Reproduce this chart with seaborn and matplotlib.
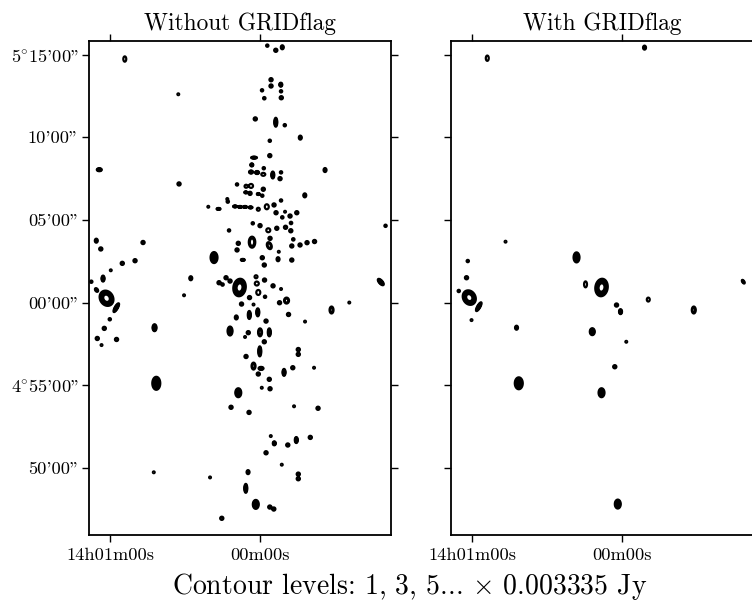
import numpy as np
import matplotlib
matplotlib.use("Agg")
import matplotlib.pyplot as plt
import seaborn as sns

# Field centre: RA 14h00m00s, Dec +05d00m00s.
# Source offsets: RA in seconds of time, Dec in arcminutes.
# Peak brightness in mJy/beam, Gaussian widths (sigma) in arcsec on the sky,
# rho = RA/Dec correlation of the elliptical profile,
# profile index 2 = Gaussian, 4 = flat-topped (resolved) source.

# ---------------- image without GRIDflag ----------------
raw_ra = [
    54.1, 32.7, 64.3, 32.4, 9.2, 13.1, -2.9, -6.3, -8.9, -4.4,
    -4.4, -8.3, -8.4, -8.5, -0.8, -1.7, 1.9, -6.3, -9.9, -16.1,
    -3.9, -3.9, 2.4, 3.3, -1.5, 3.6, 1.2, -1.3, -5.1, -8.4,
    -8.0, -26.0, 5.6, 3.6, -1.3, 5.7, 4.0, 0.7, -0.9, -17.9,
    -8.4, 10.0, 8.0, 6.0, 3.8, 0.7, -2.7, -5.6, -6.4, -10.0,
    -12.0, -14.7, 12.9, 20.7, 16.6, -8.9, -12.4, 2.9, 0.0, -3.3,
    -6.7, -10.2, -12.3, 12.4, 3.2, -3.7, -4.0, 8.7, 9.2, -13.3,
    -12.7, -16.0, -18.8, -21.8, -7.5, 6.9, -0.9, -1.7, -7.2, -12.7,
    18.4, 46.8, 65.5, 63.7, 55.1, 50.0, 59.7, 67.5, 62.8, 65.4,
    61.4, 57.5, 60.1, 62.3, 65.1, 57.4, 63.4, 27.7, 30.4, 42.2,
    16.4, 15.0, 13.6, 12.0, 8.2, 1.6, 1.3, 0.7, 4.2, -2.0,
    -1.8, -5.2, -8.4, -10.6, -7.8, 7.4, 2.6, 9.5, 4.3, 0.9,
    -2.4, -11.4, -18.0, -28.6, -35.7, -48.3, -50.2, 12.0, 4.7, 6.0,
    0.0, -3.7, -1.7, 0.1, 5.6, -15.3, -15.3, 2.6, -0.4, 0.7,
    -3.7, -9.6, -13.1, -21.6, -0.7, -4.0, 11.6, 4.4, -13.6, -23.2,
    -4.3, -5.7, -11.1, -14.5, -20.1, -2.4, -8.7, -15.3, -15.3, 4.8,
    5.7, 1.7, -3.9, -5.5, 15.3, 41.5, 8.7, 42.5, 20.0,
]
raw_dec = [
    14.73, 12.60, 8.04, 7.18, 7.15, 6.27, 15.54, 15.26, 15.44, 13.48,
    13.10, 13.18, 12.78, 12.39, 12.84, 12.36, 11.11, 10.91, 10.73, 9.98,
    9.79, 8.89, 8.77, 8.33, 8.13, 7.90, 7.87, 7.76, 7.72, 7.88,
    7.50, 8.02, 7.04, 7.06, 6.86, 6.67, 6.61, 6.57, 6.47, 6.49,
    6.18, 5.82, 5.79, 5.79, 5.76, 5.65, 5.80, 5.91, 5.44, 5.50,
    5.24, 5.44, 6.11, 5.80, 5.67, 5.16, 4.82, 4.80, 4.66, 4.38,
    4.50, 4.56, 4.35, 4.37, 3.66, 3.45, 3.89, 3.59, 3.19, 3.83,
    3.43, 3.49, 3.63, 3.70, 3.08, 2.59, 2.72, 2.28, 2.63, 2.58,
    2.73, 3.64, 3.75, 3.25, 2.38, 2.54, 1.96, 1.27, 1.46, 0.77,
    0.27, -0.30, -1.00, -1.55, -2.16, -2.22, -2.56, 1.48, 0.45, -1.51,
    1.21, 1.10, 1.51, 1.31, 0.92, 1.57, 1.16, 0.62, 0.31, 0.36,
    1.37, 1.02, 0.83, 0.13, 0.00, -0.08, -0.11, -0.89, -0.74, -0.58,
    -1.11, -0.71, -1.14, -0.44, 0.01, 1.25, 4.65, -1.71, -1.81, -2.07,
    -1.79, -1.79, -2.36, -2.94, -3.25, -2.83, -3.12, -3.83, -3.97, -4.31,
    -4.63, -4.21, -3.93, -3.93, -5.14, -5.20, -6.32, -6.63, -6.26, -6.38,
    -8.06, -8.50, -8.60, -8.30, -8.14, -9.07, -9.79, -10.36, -10.64, -10.24,
    -11.22, -12.19, -12.35, -12.47, -13.03, -4.87, -5.44, -10.25, -10.56,
]
raw_peak_mjy = [
    6.7, 5.0, 66.7, 16.7, 8.3, 5.0, 8.3, 16.7, 20.0, 16.7,
    16.7, 66.7, 8.3, 16.7, 8.3, 6.7, 16.7, 66.7, 8.3, 20.0,
    8.3, 16.7, 66.7, 66.7, 8.3, 66.7, 66.7, 6.7, 66.7, 8.3,
    16.7, 20.0, 6.7, 6.7, 16.7, 66.7, 16.7, 66.7, 8.3, 20.0,
    8.3, 66.7, 66.7, 66.7, 66.7, 6.7, 6.7, 16.7, 16.7, 5.0,
    16.7, 16.7, 8.3, 5.0, 66.7, 6.7, 6.7, 8.3, 16.7, 6.7,
    16.7, 16.7, 16.7, 8.3, 13.3, 13.3, 16.7, 16.7, 16.7, 6.7,
    16.7, 16.7, 16.7, 16.7, 5.0, 66.7, 16.7, 16.7, 20.0, 16.7,
    66.7, 16.7, 20.0, 16.7, 16.7, 16.7, 5.0, 8.3, 66.7, 16.7,
    42.0, 66.7, 8.3, 16.7, 16.7, 16.7, 5.0, 20.0, 5.0, 66.7,
    16.7, 6.7, 16.7, 16.7, 42.0, 6.7, 6.7, 6.7, 16.7, 8.3,
    16.7, 16.7, 5.0, 13.3, 16.7, 16.7, 5.0, 20.0, 66.7, 66.7,
    16.7, 16.7, 5.0, 13.3, 5.0, 66.7, 8.3, 66.7, 16.7, 5.0,
    13.3, 66.7, 16.7, 66.7, 16.7, 16.7, 16.7, 13.3, 66.7, 16.7,
    16.7, 66.7, 16.7, 5.0, 5.0, 16.7, 16.7, 16.7, 5.0, 16.7,
    5.0, 66.7, 16.7, 66.7, 16.7, 16.7, 5.0, 16.7, 16.7, 20.0,
    66.7, 66.7, 16.7, 16.7, 16.7, 66.7, 66.7, 5.0, 5.0,
]
raw_sig_ra = [
    7.4, 6.0, 6.0, 5.3, 5.1, 6.0, 5.1, 5.3, 4.6, 5.3,
    5.3, 3.6, 5.1, 5.3, 5.1, 6.1, 5.3, 3.6, 5.1, 4.6,
    5.1, 5.3, 7.2, 3.6, 5.1, 4.8, 4.8, 10.0, 3.6, 5.1,
    5.3, 4.6, 7.4, 10.0, 5.3, 3.6, 5.3, 3.6, 5.1, 4.6,
    5.1, 4.8, 4.8, 4.8, 4.8, 7.4, 10.0, 5.3, 5.3, 6.0,
    5.3, 5.3, 5.1, 6.0, 4.8, 6.1, 6.1, 5.1, 5.3, 10.0,
    5.3, 5.3, 5.3, 5.1, 14.9, 11.4, 5.3, 5.3, 5.3, 6.1,
    5.3, 5.3, 5.3, 5.3, 6.0, 4.8, 5.3, 5.3, 4.6, 5.3,
    8.4, 5.3, 4.6, 5.3, 5.3, 5.3, 6.0, 5.1, 3.6, 5.3,
    27.5, 6.8, 5.1, 5.3, 5.3, 5.3, 6.0, 4.6, 6.0, 4.8,
    5.3, 6.1, 5.3, 5.3, 24.8, 7.4, 10.0, 10.0, 5.3, 5.1,
    5.3, 5.3, 6.0, 11.4, 5.3, 5.3, 6.0, 4.6, 3.6, 3.6,
    5.3, 5.3, 6.0, 9.1, 6.0, 7.2, 5.1, 6.0, 5.3, 6.0,
    9.1, 3.6, 5.3, 3.6, 5.3, 5.3, 5.3, 9.1, 6.0, 5.3,
    5.3, 3.6, 5.3, 6.0, 6.0, 5.3, 5.3, 5.3, 6.0, 5.3,
    6.0, 3.6, 5.3, 3.6, 5.3, 5.3, 6.0, 5.3, 5.3, 4.6,
    3.6, 7.2, 5.3, 5.3, 5.3, 9.7, 7.2, 6.0, 6.0,
]
raw_sig_dec = [
    8.1, 3.6, 2.2, 3.2, 3.1, 3.6, 3.1, 3.2, 3.8, 3.2,
    3.2, 2.9, 3.1, 3.2, 3.1, 3.7, 3.2, 6.6, 3.1, 3.8,
    3.1, 3.2, 1.4, 2.2, 3.1, 2.2, 2.2, 4.5, 5.1, 3.1,
    3.2, 3.8, 4.5, 6.0, 3.2, 1.4, 3.2, 1.4, 3.1, 3.8,
    3.1, 1.4, 1.4, 1.4, 1.4, 4.5, 7.6, 3.2, 3.2, 3.6,
    3.2, 3.2, 3.1, 3.6, 1.4, 3.7, 3.7, 3.1, 3.2, 6.0,
    3.2, 3.2, 3.2, 3.1, 15.4, 9.7, 3.2, 3.2, 3.2, 3.7,
    3.2, 3.2, 3.2, 3.2, 3.6, 1.4, 3.2, 3.2, 3.8, 3.2,
    8.1, 3.2, 3.8, 3.2, 3.2, 3.2, 3.6, 3.1, 4.4, 3.7,
    18.4, 6.5, 3.1, 3.2, 3.2, 3.2, 3.6, 3.8, 3.6, 5.1,
    3.2, 3.7, 3.2, 3.2, 21.1, 4.5, 6.0, 7.6, 3.2, 3.1,
    3.2, 3.2, 3.6, 8.3, 3.2, 3.2, 3.6, 3.8, 5.9, 5.9,
    3.2, 3.2, 3.6, 9.7, 3.6, 4.7, 3.1, 6.6, 3.2, 3.6,
    11.1, 5.9, 3.2, 7.4, 3.2, 3.2, 3.2, 9.7, 2.2, 3.2,
    3.2, 5.1, 3.2, 3.6, 3.6, 3.2, 3.2, 3.2, 3.6, 3.2,
    3.6, 2.9, 3.2, 4.4, 3.2, 3.2, 3.6, 3.2, 3.2, 3.8,
    6.6, 6.6, 3.2, 3.2, 3.2, 9.6, 6.6, 3.6, 3.6,
]
raw_rho = [
    0, 0, 0, 0, 0, 0, 0, 0, 0, 0,
    0, 0, 0, 0, 0, 0, 0, 0, 0, 0,
    0, 0, 0, 0, 0, 0, 0, 0, 0, 0,
    0, 0, 0, 0, 0, 0, 0, 0, 0, 0,
    0, 0, 0, 0, 0, 0, 0, 0, 0, 0,
    0, 0, 0, 0, 0, 0, 0, 0, 0, 0,
    0, 0, 0, 0, 0, 0.3, 0, 0, 0, 0,
    0, 0, 0, 0, 0, 0, 0, 0, 0, 0,
    0, 0, 0, 0, 0, 0, 0, 0, 0, 0.4,
    0.17, -0.8, 0, 0, 0, 0, 0, 0, 0, 0,
    0, 0, 0, 0, -0.1, 0, 0, 0, 0, 0,
    0, 0, 0, 0, 0, 0, 0, 0, 0, 0,
    0, 0, 0, 0, 0, 0.68, 0, 0, 0, 0,
    0, 0, 0, 0, 0, 0, 0, 0, 0, 0,
    0, 0, 0, 0, 0, 0, 0, 0, 0, 0,
    0, 0, 0, 0, 0, 0, 0, 0, 0, 0,
    0, 0, 0, 0, 0, 0, 0, 0, 0,
]
raw_index = [
    2, 2, 2, 2, 2, 2, 2, 2, 2, 2,
    2, 2, 2, 2, 2, 2, 2, 2, 2, 2,
    2, 2, 2, 2, 2, 2, 2, 2, 2, 2,
    2, 2, 2, 2, 2, 2, 2, 2, 2, 2,
    2, 2, 2, 2, 2, 2, 2, 2, 2, 2,
    2, 2, 2, 2, 2, 2, 2, 2, 2, 2,
    2, 2, 2, 2, 4, 4, 2, 2, 2, 2,
    2, 2, 2, 2, 2, 2, 2, 2, 2, 2,
    2, 2, 2, 2, 2, 2, 2, 2, 2, 2,
    4, 2, 2, 2, 2, 2, 2, 2, 2, 2,
    2, 2, 2, 2, 4, 2, 2, 2, 2, 2,
    2, 2, 2, 4, 2, 2, 2, 2, 2, 2,
    2, 2, 2, 4, 2, 2, 2, 2, 2, 2,
    4, 2, 2, 2, 2, 2, 2, 4, 2, 2,
    2, 2, 2, 2, 2, 2, 2, 2, 2, 2,
    2, 2, 2, 2, 2, 2, 2, 2, 2, 2,
    2, 2, 2, 2, 2, 2, 2, 2, 2,
]

# ---------------- image with GRIDflag ----------------
flag_ra = [54.0, -8.9, 46.7, 61.8, 62.3, 65.4, 61.2, 57.4, 60.3, 42.3, 41.4, 18.3,
           14.7, 8.3, -10.4, 2.3, 0.7, -1.6, 3.0, 12.0, 8.3, 1.8, -28.6, -48.4]
flag_dec = [14.78, 15.42, 3.69, 2.52, 1.51, 0.71, 0.31, -0.24, -1.05, -1.51, -4.87, 2.74,
            1.11, 0.92, 0.19, -0.14, -0.54, -2.36, -3.87, -1.75, -5.44, -12.17, -0.44, 1.27]
flag_peak_mjy = [6.7, 20.0, 5.0, 8.3, 16.7, 8.3, 42.0, 66.7, 5.0, 20.0, 66.7, 66.7,
                 6.7, 42.0, 6.7, 16.7, 66.7, 5.0, 16.7, 66.7, 66.7, 66.7, 13.3, 20.0]
flag_sig_ra = [7.4, 4.6, 6.0, 5.1, 5.3, 5.1, 26.0, 6.8, 6.0, 4.6, 9.7, 7.2,
               7.4, 24.8, 7.4, 5.3, 3.6, 6.0, 5.3, 6.0, 7.2, 7.2, 9.1, 4.5]
flag_sig_dec = [8.1, 3.8, 3.6, 3.1, 3.2, 3.1, 17.5, 6.5, 3.6, 3.8, 8.8, 7.4,
                9.1, 21.1, 6.0, 3.2, 3.6, 3.6, 3.2, 5.1, 6.6, 6.6, 9.7, 3.5]
flag_rho = [0, 0, 0, 0, 0, 0, 0.17, -0.8, 0, 0, 0, 0,
            0, -0.1, 0, 0, 0, 0, 0, 0, 0, 0, 0, 0.6]
flag_index = [2, 2, 2, 2, 2, 2, 4, 2, 2, 2, 2, 2,
              2, 4, 2, 2, 2, 2, 2, 2, 2, 2, 4, 2]

# contour levels: odd multiples of the image noise unit
CONTOUR_UNIT_JY = 0.003335
contour_multiples = [1, 3, 5, 7, 9, 11, 13, 15, 17, 19, 21, 23]

panel_titles = ["Without GRIDflag", "With GRIDflag"]
ra_ticks = [60, 0]
ra_tick_labels = ["14h01m00s", "00m00s"]
dec_ticks = [15, 10, 5, 0, -5, -10]
dec_tick_labels = [r"$5^{\circ}15$'00" + '"', "10'00\"", "05'00\"", "00'00\"",
                   r"$4^{\circ}55$'00" + '"', "50'00\""]

RA_LIM = (68.52, -52.28)
DEC_LIM = (-14.07, 15.82)
COS_DEC = np.cos(np.radians(5.0))

ra_grid = np.linspace(RA_LIM[1], RA_LIM[0], 1210)
dec_grid = np.linspace(DEC_LIM[0], DEC_LIM[1], 1980)


def sky_model(ra, dec, peak_mjy, sig_ra, sig_dec, rho, index):
    """Sum of elliptical source profiles on the RA/Dec grid, in Jy/beam."""
    x_as = ra_grid * 15.0 * COS_DEC
    y_as = dec_grid * 60.0
    img = np.zeros((dec_grid.size, ra_grid.size))
    for r, d, p, sr, sd, c, n in zip(ra, dec, peak_mjy, sig_ra, sig_dec, rho, index):
        x0, y0 = r * 15.0 * COS_DEC, d * 60.0
        i0, i1 = np.searchsorted(x_as, [x0 - 5 * sr, x0 + 5 * sr])
        j0, j1 = np.searchsorted(y_as, [y0 - 5 * sd, y0 + 5 * sd])
        u = (x_as[i0:i1] - x0) / sr
        v = (y_as[j0:j1] - y0) / sd
        uu, vv = np.meshgrid(u, v)
        q = (uu * uu - 2 * c * uu * vv + vv * vv) / (1 - c * c)
        img[j0:j1, i0:i1] += p / 1000.0 * np.exp(-0.5 * q ** (n / 2.0))
    return img


images = [
    sky_model(raw_ra, raw_dec, raw_peak_mjy, raw_sig_ra, raw_sig_dec, raw_rho, raw_index),
    sky_model(flag_ra, flag_dec, flag_peak_mjy, flag_sig_ra, flag_sig_dec, flag_rho, flag_index),
]
levels = CONTOUR_UNIT_JY * np.array(contour_multiples)

sns.set_theme(style="ticks")
plt.rcParams.update({
    "font.family": ["cmr10", "DejaVu Serif"],
    "mathtext.fontset": "cm",
    "axes.unicode_minus": False,
    "axes.edgecolor": "black",
    "axes.linewidth": 1.3,
    "xtick.color": "black",
    "ytick.color": "black",
    "text.color": "black",
})

fig = plt.figure(figsize=(7.52, 6.01), dpi=100)
axes = [fig.add_axes([0.118, 0.10899, 0.4016, 0.82279]),
        fig.add_axes([0.5997, 0.10899, 0.4016, 0.82279])]

for k, (ax, img, title) in enumerate(zip(axes, images, panel_titles)):
    ax.contour(ra_grid, dec_grid, img, levels=levels, colors="black",
               linewidths=1.6)
    ax.set_xlim(*RA_LIM)
    ax.set_ylim(*DEC_LIM)
    ax.set_xticks(ra_ticks)
    ax.set_xticklabels(ra_tick_labels)
    ax.set_yticks(dec_ticks)
    ax.set_yticklabels(dec_tick_labels if k == 0 else [])
    ax.tick_params(direction="out", length=5, width=1.0, top=True, right=True,
                   labelsize=13.2, pad=3.5)
    ax.tick_params(axis="y", pad=2)
    ax.set_title(title, fontsize=16.8, pad=8)
    ax.set_facecolor("white")

fig.text(0.545, 0.012, r"Contour levels: 1, 3, 5... $\times$ 0.003335 Jy",
         ha="center", va="baseline", fontsize=20)

fig.savefig("out.png", dpi=100, facecolor="white")
